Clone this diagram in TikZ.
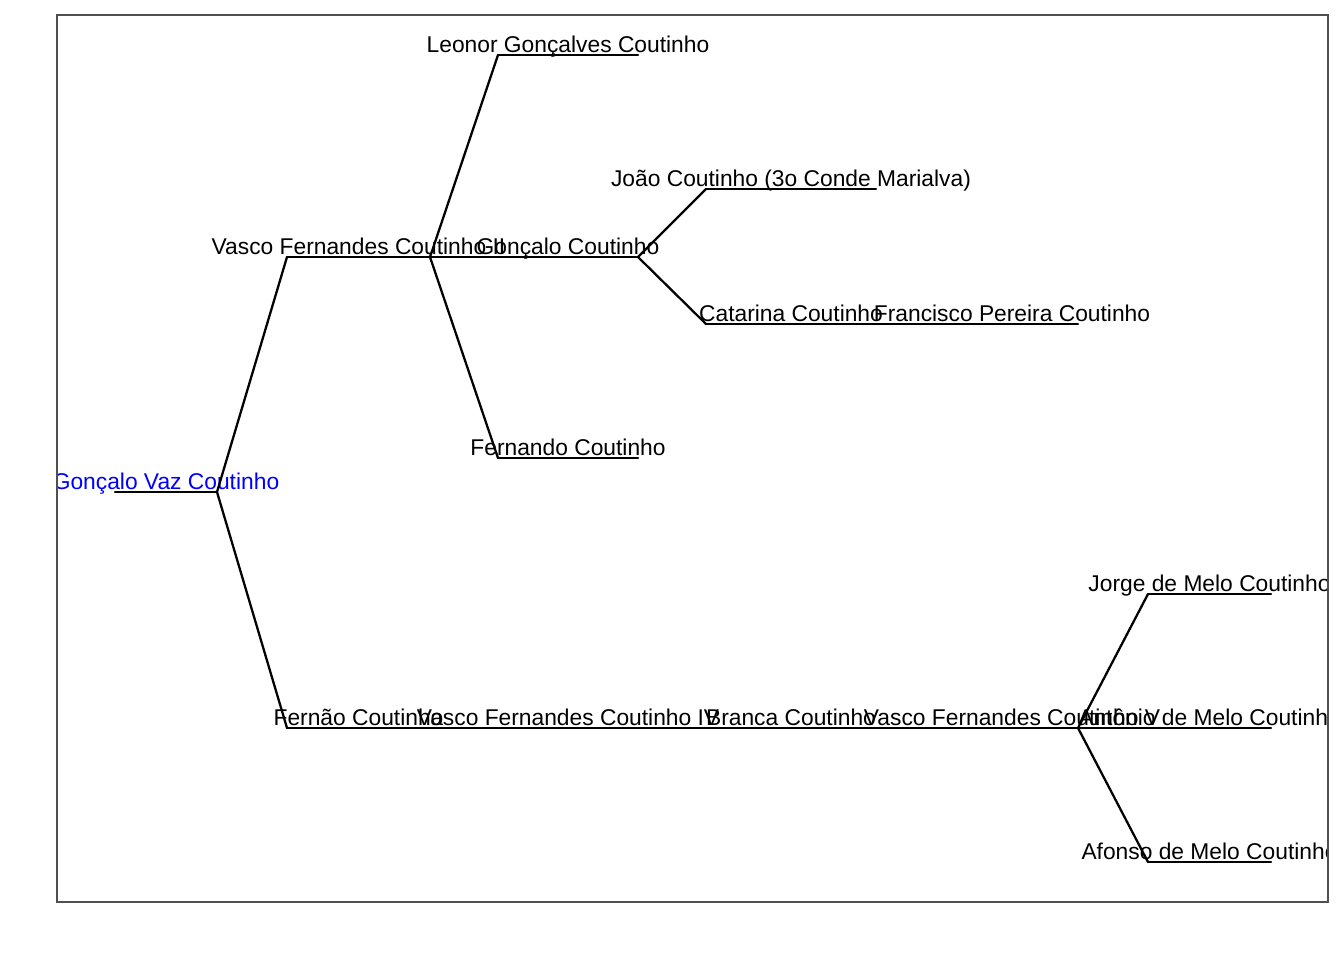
\documentclass[tikz,border=0pt]{standalone}
\usepackage{fontspec}
\setmainfont{Liberation Sans}
\usetikzlibrary{calc}
\tikzset{
  seg/.style={line width=1.7pt, line cap=round, line join=round},
  link/.style={line width=1.7pt, line cap=round},
  lbl/.style={anchor=base, inner sep=0pt, font=\fontsize{17.1}{20}\selectfont},
  rootlbl/.style={lbl, text={rgb,255:red,0;green,0;blue,255}},
  framebox/.style={draw={rgb,255:red,80;green,80;blue,80}, line width=1.1pt}
}
\newcommand\personnode[6]{%
  \coordinate (#1S) at (#2,#4);
  \coordinate (#1E) at (#3,#4);
  \draw[seg] (#1S) -- (#1E);
  \node[#6] (#1) at ($(#1S)!0.5!(#1E)+(0,-2.5)$) {#5};
}
\begin{document}
\begin{tikzpicture}[x=0.75pt,y=-0.75pt]
\useasboundingbox (0,0) rectangle (1344,960);
\begin{scope}
\clip (57,15) rectangle (1328,902);
\personnode{root}{115}{217}{492}{Gonçalo Vaz Coutinho}{rootlbl}
\personnode{vtwo}{287}{430}{257}{Vasco Fernandes Coutinho II}{lbl}
\personnode{fe}{287}{430}{728}{Fernão Coutinho}{lbl}
\personnode{le}{498}{638}{55}{Leonor Gonçalves Coutinho}{lbl}
\personnode{gc}{498}{638}{257}{Gonçalo Coutinho}{lbl}
\personnode{fd}{498}{638}{458}{Fernando Coutinho}{lbl}
\personnode{jo}{706}{876}{189}{João Coutinho (3o Conde Marialva)}{lbl}
\personnode{ca}{706}{876}{324}{Catarina Coutinho}{lbl}
\personnode{fp}{946}{1078}{324}{Francisco Pereira Coutinho}{lbl}
\personnode{vfour}{498}{638}{728}{Vasco Fernandes Coutinho IV}{lbl}
\personnode{br}{706}{876}{728}{Branca Coutinho}{lbl}
\personnode{vfive}{946}{1078}{728}{Vasco Fernandes Coutinho V}{lbl}
\personnode{jm}{1148}{1271}{594}{Jorge de Melo Coutinho}{lbl}
\personnode{an}{1148}{1271}{728}{Antônio de Melo Coutinho}{lbl}
\personnode{af}{1148}{1271}{862}{Afonso de Melo Coutinho}{lbl}
\draw[link] (rootE) -- (vtwoS);
\draw[link] (rootE) -- (feS);
\draw[link] (vtwoE) -- (leS);
\draw[link] (vtwoE) -- (gcS);
\draw[link] (vtwoE) -- (fdS);
\draw[link] (gcE) -- (joS);
\draw[link] (gcE) -- (caS);
\draw[link] (caE) -- (fpS);
\draw[link] (feE) -- (vfourS);
\draw[link] (vfourE) -- (brS);
\draw[link] (brE) -- (vfiveS);
\draw[link] (vfiveE) -- (jmS);
\draw[link] (vfiveE) -- (anS);
\draw[link] (vfiveE) -- (afS);
\end{scope}
\draw[framebox] (57,15) rectangle (1328,902);
\end{tikzpicture}
\end{document}
